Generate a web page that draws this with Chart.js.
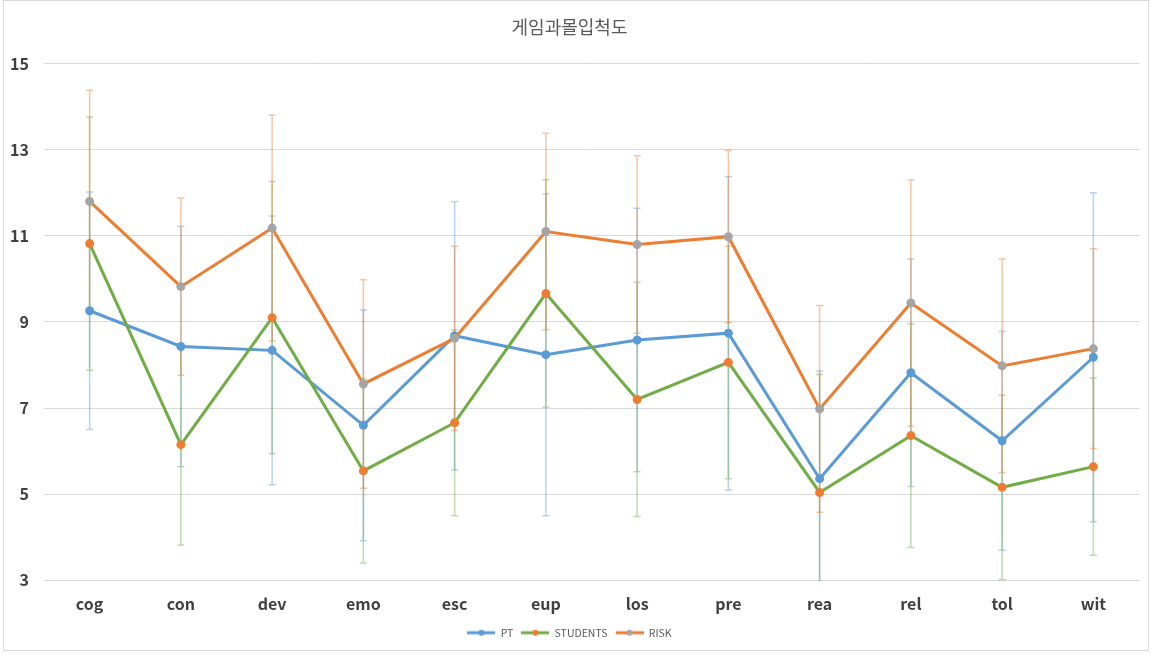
<!DOCTYPE html>
<html>
<head>
    <meta charset="utf-8">
    <title>게임과몰입척도</title>
    <style>
        html, body { margin: 0; padding: 0; background: #fff; }
        #wrap { position: relative; width: 1154px; height: 655px; }
    </style>
</head>
<body>
    <div id="wrap"><canvas id="myChart"></canvas></div>
    <script src="https://cdn.jsdelivr.net/npm/chart.js"></script>
    <script>
        // values
        const categories = ['cog', 'con', 'dev', 'emo', 'esc', 'eup', 'los', 'pre', 'rea', 'rel', 'tol', 'wit'];
        const ptValues = [9.26, 8.43, 8.34, 6.6, 8.68, 8.24, 8.58, 8.74, 5.36, 7.82, 6.24, 8.18];
        const ptErrors = [2.76, 2.79, 3.12, 2.68, 3.12, 3.74, 3.06, 3.64, 2.5, 2.64, 2.54, 3.82];
        const studentValues = [10.82, 6.15, 9.1, 5.54, 6.66, 9.66, 7.2, 8.06, 5.04, 6.36, 5.16, 5.64];
        const studentErrors = [2.94, 2.33, 3.16, 2.14, 2.16, 2.64, 2.72, 2.7, 2.74, 2.6, 2.14, 2.06];
        const riskValues = [11.8, 9.82, 11.18, 7.56, 8.62, 11.1, 10.8, 10.98, 6.98, 9.44, 7.98, 8.38];
        const riskErrors = [2.58, 2.06, 2.62, 2.42, 2.14, 2.28, 2.06, 2.0, 2.4, 2.86, 2.48, 2.32];
        const yTicks = [3, 5, 7, 9, 11, 13, 15];

        const FONT = "'Noto Sans CJK KR', 'Noto Sans', sans-serif";

        // legend symbol: short line with a dot in the middle
        function legendIcon(lineColor, dotColor) {
            const c = document.createElement('canvas');
            c.width = 28; c.height = 8;
            const g = c.getContext('2d');
            g.strokeStyle = lineColor;
            g.lineWidth = 3;
            g.beginPath(); g.moveTo(0, 4); g.lineTo(28, 4); g.stroke();
            g.fillStyle = dotColor;
            g.beginPath(); g.arc(14, 4, 3, 0, Math.PI * 2); g.fill();
            return c;
        }

        const series = [
            { label: 'PT', values: ptValues, errors: ptErrors, line: '#5B9BD5', dot: '#5B9BD5', bar: 'rgba(91,155,213,0.45)', order: 2 },
            { label: 'STUDENTS', values: studentValues, errors: studentErrors, line: '#70AD47', dot: '#ED7D31', bar: 'rgba(112,173,71,0.45)', order: 1 },
            { label: 'RISK', values: riskValues, errors: riskErrors, line: '#ED7D31', dot: '#A5A5A5', bar: 'rgba(237,125,49,0.45)', order: 0 }
        ];

        const errorBars = {
            id: 'errorBars',
            beforeDatasetsDraw(chart) {
                const ctx = chart.ctx, y = chart.scales.y, a = chart.chartArea;
                ctx.save();
                ctx.beginPath();
                ctx.rect(a.left, a.top - 1, a.right - a.left, a.bottom - a.top + 2);
                ctx.clip();
                ctx.lineWidth = 1.5;
                series.forEach((s, di) => {
                    const meta = chart.getDatasetMeta(di);
                    ctx.strokeStyle = s.bar;
                    meta.data.forEach((pt, i) => {
                        const x = pt.x;
                        const top = y.getPixelForValue(s.values[i] + s.errors[i]);
                        const bot = y.getPixelForValue(s.values[i] - s.errors[i]);
                        ctx.beginPath();
                        ctx.moveTo(x, top); ctx.lineTo(x, bot);
                        ctx.moveTo(x - 3.5, top); ctx.lineTo(x + 3.5, top);
                        ctx.moveTo(x - 3.5, bot); ctx.lineTo(x + 3.5, bot);
                        ctx.stroke();
                    });
                });
                ctx.restore();
            },
            afterDraw(chart) {
                const ctx = chart.ctx;
                ctx.save();
                ctx.strokeStyle = '#d9d9d9';
                ctx.lineWidth = 1;
                ctx.strokeRect(3.5, 0.5, 1145, 650);
                ctx.restore();
            }
        };

        const ctx = document.getElementById('myChart').getContext('2d');
        const myChart = new Chart(ctx, {
            type: 'line',
            data: {
                labels: categories,
                datasets: series.map(s => ({
                    label: s.label,
                    data: s.values,
                    borderColor: s.line,
                    backgroundColor: s.dot,
                    pointBackgroundColor: s.dot,
                    pointBorderColor: s.dot,
                    pointRadius: 3,
                    borderWidth: 3,
                    tension: 0,
                    order: s.order
                }))
            },
            options: {
                responsive: true,
                maintainAspectRatio: false,
                animation: false,
                layout: { padding: { left: 0, right: 15, top: 0, bottom: 7 } },
                scales: {
                    x: {
                        offset: true,
                        grid: { display: false },
                        border: { display: true, color: '#d9d9d9' },
                        ticks: { color: '#404040', padding: 6, font: { family: FONT, size: 16, weight: 'bold' } }
                    },
                    y: {
                        min: 3,
                        max: 15,
                        afterBuildTicks: axis => { axis.ticks = yTicks.map(v => ({ value: v })); },
                        afterFit: axis => { axis.width = 44; },
                        grid: { color: '#d9d9d9', drawTicks: false },
                        border: { display: false },
                        ticks: { color: '#404040', padding: 15, font: { family: FONT, size: 16, weight: 'bold' } }
                    }
                },
                plugins: {
                    title: {
                        display: true,
                        text: '게임과몰입척도',
                        color: '#595959',
                        font: { family: FONT, size: 18, weight: 'normal' },
                        padding: { top: 16, bottom: 26 }
                    },
                    legend: {
                        position: 'bottom',
                        labels: {
                            usePointStyle: true,
                            pointStyleWidth: 28,
                            padding: 8,
                            color: '#595959',
                            font: { family: FONT, size: 10.5 },
                            generateLabels: () => series.map((s, i) => ({
                                text: s.label,
                                datasetIndex: i,
                                pointStyle: legendIcon(s.line, s.dot),
                                fontColor: '#595959',
                                lineWidth: 0,
                                strokeStyle: 'transparent',
                                fillStyle: 'transparent'
                            }))
                        }
                    },
                    tooltip: { enabled: false }
                }
            },
            plugins: [errorBars]
        });
    </script>
</body>
</html>
